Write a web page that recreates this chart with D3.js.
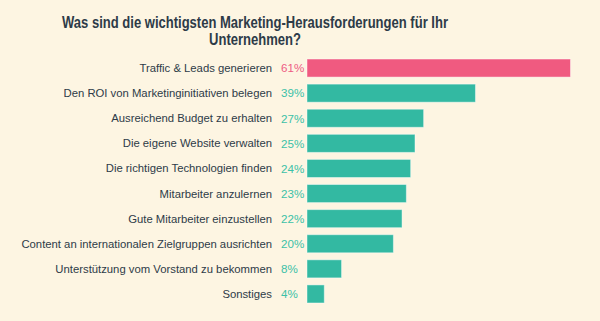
<!DOCTYPE html>
<html><head><meta charset="utf-8">
<script src="https://cdn.jsdelivr.net/npm/d3@7"></script>
<style>
html,body{margin:0;padding:0;background:#FDF5E2;}
svg{display:block;}
</style></head>
<body>
<svg id="chart" width="600" height="321"></svg>
<script>
const categories = [
  "Traffic & Leads generieren",
  "Den ROI von Marketinginitiativen belegen",
  "Ausreichend Budget zu erhalten",
  "Die eigene Website verwalten",
  "Die richtigen Technologien finden",
  "Mitarbeiter anzulernen",
  "Gute Mitarbeiter einzustellen",
  "Content an internationalen Zielgruppen ausrichten",
  "Unterstützung vom Vorstand zu bekommen",
  "Sonstiges"
];
const values = [61, 39, 27, 25, 24, 23, 22, 20, 8, 4];
const highlight = [true, false, false, false, false, false, false, false, false, false];
const titleLines = ["Was sind die wichtigsten Marketing-Herausforderungen für Ihr", "Unternehmen?"];

const svg = d3.select("#chart");
const W = 600, H = 321;
svg.append("rect").attr("width", W).attr("height", H).attr("fill", "#FDF5E2");

const font = "'Liberation Sans', Arial, sans-serif";

// condense text horizontally to match the reference's narrower title face
function condense(sel, factor) {
  sel.each(function () {
    const len = this.getComputedTextLength();
    d3.select(this).attr("textLength", len * factor).attr("lengthAdjust", "spacingAndGlyphs");
  });
}

svg.selectAll("text.title").data(titleLines).join("text").attr("class", "title")
  .attr("font-family", font).attr("font-weight", "bold")
  .attr("font-size", 16.3).attr("fill", "#2D3B48").attr("text-anchor", "middle")
  .attr("x", 255).attr("y", (d, i) => 27.5 + i * 17.2).text(d => d)
  .call(condense, 0.80);

const x = d3.scaleLinear().domain([0, 61]).range([307, 570.5]);
const y = d3.scaleBand().domain(categories).range([55.5, 306.5]).paddingInner(0.28).paddingOuter(0.14);

const pink = "#F05A80", teal = "#33B9A2";
const pinkText = "#EE5C83", tealText = "#3CC1A7";

const g = svg.append("g");
g.selectAll("rect.bar").data(values).join("rect").attr("class", "bar")
  .attr("x", x(0)).attr("y", (d, i) => y(categories[i]))
  .attr("width", d => x(d) - x(0)).attr("height", y.bandwidth())
  .attr("fill", (d, i) => highlight[i] ? pink : teal)
  .attr("stroke", "rgba(255,255,255,0.45)").attr("stroke-width", 1);

g.selectAll("text.cat").data(categories).join("text").attr("class", "cat")
  .attr("x", 272).attr("y", d => y(d) + y.bandwidth() / 2).attr("dy", "0.35em")
  .attr("text-anchor", "end").attr("font-family", font).attr("font-size", 11.3)
  .attr("fill", "#2D3B48").text(d => d);

g.selectAll("text.val").data(values).join("text").attr("class", "val")
  .attr("x", 281).attr("y", (d, i) => y(categories[i]) + y.bandwidth() / 2).attr("dy", "0.37em")
  .attr("text-anchor", "start").attr("font-family", font).attr("font-size", 11.6)
  .attr("fill", (d, i) => highlight[i] ? pinkText : tealText).text(d => d + "%");
</script>
</body></html>
